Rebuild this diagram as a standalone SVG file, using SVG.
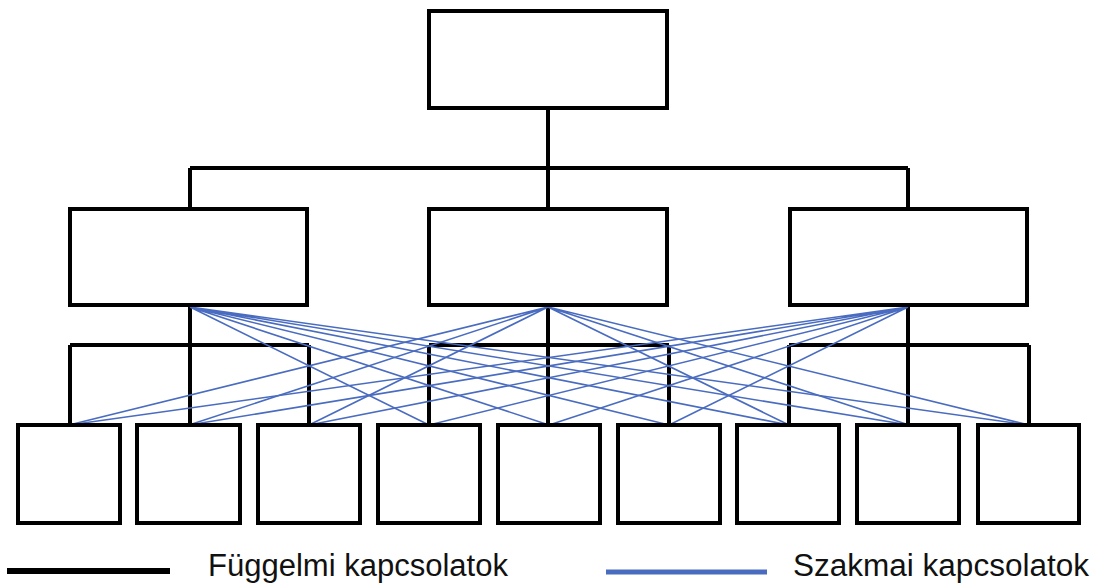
<svg xmlns="http://www.w3.org/2000/svg" width="1094" height="585" viewBox="0 0 1094 585">
<style>
.box{fill:#fff;stroke:#000;stroke-width:4}
.blk{fill:none;stroke:#000;stroke-width:4}
.blu{fill:none;stroke:#4a6cc0;stroke-width:1.6}
.lbl{font-family:"Liberation Sans",Arial,sans-serif;font-size:31px;fill:#111}
</style>
<rect width="1094" height="585" fill="#fff"/>
<g id="hierarchy-lines">
<path class="blk" d="M548 110V168M190 168H908M190 168V209M548 168V209M908 168V209"/>
<path class="blk" d="M190 305V345M70 345H309M70 345V425M190 345V425M309 345V425"/>
<path class="blk" d="M548 305V345M429 345H669M429 345V425M548 345V425M669 345V425"/>
<path class="blk" d="M908 305V345M789 345H1029M789 345V425M908 345V425M1029 345V425"/>
</g>
<g id="professional-lines">
<path class="blu" d="M190 307L429 425M190 307L549 425M190 307L669 425M190 307L789 425M190 307L909 425M190 307L1029 425"/>
<path class="blu" d="M548 307L69 425M548 307L189 425M548 307L309 425M548 307L789 425M548 307L909 425M548 307L1029 425"/>
<path class="blu" d="M908 307L69 425M908 307L189 425M908 307L309 425M908 307L429 425M908 307L549 425M908 307L669 425"/>
</g>
<g id="top"><rect class="box" x="429" y="11" width="238" height="97"/></g>
<g id="mid1"><rect class="box" x="70" y="209" width="237" height="96"/></g>
<g id="mid2"><rect class="box" x="429" y="209" width="238" height="96"/></g>
<g id="mid3"><rect class="box" x="790" y="209" width="237" height="96"/></g>
<g id="b1"><rect class="box" x="18" y="425" width="102" height="98"/></g>
<g id="b2"><rect class="box" x="137" y="425" width="103" height="98"/></g>
<g id="b3"><rect class="box" x="258" y="425" width="102" height="98"/></g>
<g id="b4"><rect class="box" x="378" y="425" width="102" height="98"/></g>
<g id="b5"><rect class="box" x="498" y="425" width="102" height="98"/></g>
<g id="b6"><rect class="box" x="618" y="425" width="102" height="98"/></g>
<g id="b7"><rect class="box" x="737" y="425" width="102" height="98"/></g>
<g id="b8"><rect class="box" x="857" y="425" width="102" height="98"/></g>
<g id="b9"><rect class="box" x="978" y="425" width="101" height="98"/></g>
<g id="legend">
<line x1="7" y1="571" x2="170" y2="571" stroke="#000" stroke-width="6"/>
<text class="lbl" x="208" y="576" textLength="300" lengthAdjust="spacingAndGlyphs">Függelmi kapcsolatok</text>
<line x1="606" y1="572" x2="767" y2="572" stroke="#4a6cc0" stroke-width="5"/>
<text class="lbl" x="793" y="576" textLength="296" lengthAdjust="spacingAndGlyphs">Szakmai kapcsolatok</text>
</g>
</svg>
